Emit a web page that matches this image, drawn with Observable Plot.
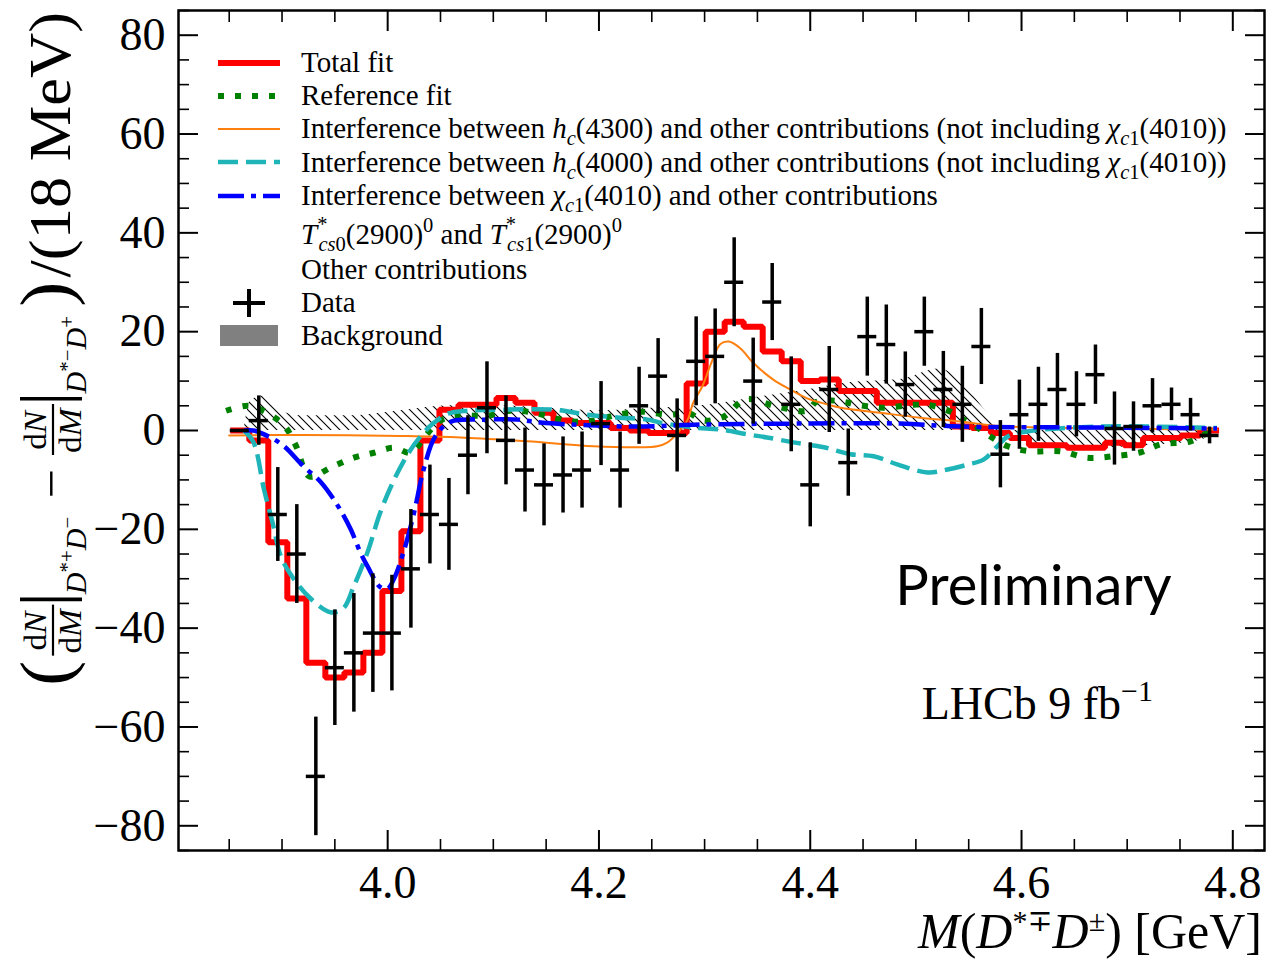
<!DOCTYPE html>
<html><head><meta charset="utf-8">
<script src="https://cdn.jsdelivr.net/npm/d3@7"></script>
<script src="https://cdn.jsdelivr.net/npm/@observablehq/plot@0.6"></script>
<style>html,body{margin:0;padding:0;background:#fff;overflow:hidden}</style>
</head><body><div id="chart"></div>
<script>
// ---------------- data ----------------
const binCenters = [3.860,3.878,3.896,3.914,3.932,3.950,3.968,3.986,4.004,4.022,4.040,4.058,4.076,4.094,4.112,4.130,4.148,4.166,4.184,4.202,4.220,4.238,4.256,4.274,4.292,4.310,4.328,4.346,4.364,4.382,4.400,4.418,4.436,4.454,4.472,4.490,4.508,4.526,4.544,4.562,4.580,4.598,4.616,4.634,4.652,4.670,4.688,4.706,4.724,4.742,4.760,4.778];
const binHalfWidth = 0.009;
const dataValues = [0,2,-17,-25,-70,-48,-45,-41,-41,-28,-17,-19,-5,4.6,-2,-8,-11,-9,-8,1.4,-8,5,11,-1,14,15,30,10,26,5.3,-11,8.3,-6.5,19,17.4,9.3,20,8.3,5.3,17,-4.8,3.2,5.3,8.3,5.3,11.3,0.4,0.8,5,5.3,3.2,-1];
const dataErrors = [0,5,9.5,10,12,11.7,12,12,11.7,12,10,9.3,8,9.3,9,8.5,8.3,7.7,7.7,8.5,7.7,7.8,7.6,7.4,9,9.6,9,8.7,7.8,9.6,8.5,8.7,6.8,8,8,6.6,7,7.7,7.7,7.7,6.8,7,7.5,7.3,6.6,6,7.4,5,5.5,3.3,3.3,1.7];
const totalFit = [0,-2,-22.6,-34,-47,-50,-49,-45,-32.5,-20.4,-2,4.2,5.2,5.2,6.6,5.6,3.6,2,1.5,1.5,0.5,0,-0.5,-0.5,9.5,20,22,21,16,14,10,10.3,8,8,5.6,5.6,5.6,5.6,0.8,0.5,-0.5,-1.5,-3,-3,-3.5,-3.5,-2.5,-3,-1.5,-1.5,-1,0];

const refFitX = [3.847,3.868,3.882,3.902,3.913,3.926,3.946,3.968,3.987,4.006,4.022,4.036,4.050,4.066,4.095,4.116,4.138,4.156,4.176,4.195,4.218,4.239,4.268,4.284,4.299,4.318,4.339,4.369,4.397,4.406,4.426,4.445,4.469,4.498,4.511,4.533,4.542,4.554,4.569,4.587,4.608,4.637,4.662,4.687,4.713,4.732,4.760,4.779];
const refFitY = [4,5,4,1,-3,-9.3,-7.5,-5.5,-4.5,-3.5,-4.5,-1,2,3,3,4,3.6,2.6,1.8,2,3.2,3.8,3.2,3.6,2,2.8,6.3,4.8,4,5.8,6,5.2,4.6,5.2,5.2,3.8,2.6,1.2,-1,-3.2,-4.2,-4.2,-5.5,-5.2,-4.4,-2.8,-2.2,0];

const hc4300X = [3.850,3.918,4.012,4.069,4.132,4.195,4.239,4.255,4.265,4.274,4.284,4.289,4.298,4.306,4.315,4.323,4.334,4.346,4.365,4.381,4.397,4.416,4.429,4.466,4.504,4.542,4.580,4.618,4.675,4.785];
const hc4300Y = [-1,-0.9,-1.1,-1.4,-2.2,-3.2,-3.4,-3.2,-2.4,-0.6,2.2,5.5,9,13.5,17.5,18,16.6,13.7,10.3,8.3,6.5,5.3,4.6,3.6,2.6,1.8,0.9,0.6,0.4,0.2];

const hc4000X = [3.864,3.873,3.883,3.891,3.899,3.911,3.927,3.946,3.958,3.968,3.981,3.993,4.006,4.019,4.031,4.044,4.057,4.076,4.107,4.157,4.189,4.220,4.246,4.258,4.289,4.315,4.341,4.359,4.384,4.413,4.438,4.460,4.483,4.511,4.530,4.549,4.564,4.577,4.587,4.605,4.675,4.785];
const hc4000Y = [0,-2.4,-12,-18.6,-25.5,-30,-34,-36.8,-36,-31.5,-24.6,-16.6,-10,-4.8,-1.2,1.6,3.4,4,4.2,4.2,3.2,2.6,2.2,1.6,0.6,0.2,-0.8,-1.4,-2.4,-3.4,-4.8,-5.2,-6.9,-8.5,-7.9,-6.9,-5.9,-3.2,-1.2,-0.2,0.8,0.5];

const chic1X = [3.864,3.873,3.889,3.902,3.920,3.937,3.953,3.965,3.974,3.981,3.993,4.000,4.006,4.015,4.025,4.034,4.045,4.060,4.091,4.123,4.145,4.176,4.233,4.296,4.391,4.485,4.542,4.675,4.785];
const chic1Y = [0,0,-1.4,-3.2,-7.2,-10.5,-15.3,-20,-24.6,-27.5,-31.7,-32,-30,-24.6,-16.6,-7.9,-1.2,1.8,2.2,2.2,1.6,1.2,0.8,1.2,1.4,1.4,0.8,0.6,0.4];

const bkgX = [3.864,3.870,3.882,3.899,3.918,3.965,4.012,4.060,4.107,4.154,4.202,4.249,4.296,4.343,4.391,4.438,4.485,4.523,4.542,4.570,4.589,4.627,4.675,4.722,4.769,4.785];
const bkgY = [0,6,7,4,3,3,4,5,5,4.5,4,4.5,5,6.5,8,9.7,10.3,12.5,10,3,-1,-3,-3.5,-3,-2,0];

const xMajorTicks = [4.0,4.2,4.4,4.6,4.8];
const xMinorTicks = [3.85,3.9,3.95,4.05,4.1,4.15,4.25,4.3,4.35,4.45,4.5,4.55,4.65,4.7,4.75];
const yMajorTicks = [-80,-60,-40,-20,0,20,40,60,80];
const yMinorTicks = [-85,-75,-70,-65,-55,-50,-45,-35,-30,-25,-15,-10,-5,5,10,15,25,30,35,45,50,55,65,70,75,85];

// ---------------- tables ----------------
const SERIF = "'Liberation Serif', 'DejaVu Serif', serif";
const pts = (xs, ys) => xs.map((x, i) => ({x, y: ys[i]}));
const data = binCenters.map((x, i) => ({x, y: dataValues[i], e: dataErrors[i]}));
const last = binCenters.length - 1;
const redStep = binCenters.map((x, i) => ({x: x - binHalfWidth, y: totalFit[i]}))
  .concat([{x: binCenters[last] + binHalfWidth, y: totalFit[last]}]);

const C = {red: "#ff0000", green: "#008000", orange: "#ff7f0e", cyan: "#1fb5b8", blue: "#0000ff"};
const DASH = {green: "6,11", cyan: "20,8", blue: "26,7,5,7"};

function addParts(sel, parts) {
  parts.forEach(p => {
    const s = sel.append("tspan").text(p.t);
    if (p.i) s.attr("font-style", "italic");
    if (p.s) s.attr("font-size", p.s);
    if (p.dy) s.attr("dy", p.dy);
    if (p.dx) s.attr("dx", p.dx);
  });
  return sel;
}

function defs() {
  const d = d3.create("svg:defs");
  const p = d.append("pattern").attr("id", "hatch").attr("patternUnits", "userSpaceOnUse")
    .attr("width", 9).attr("height", 9);
  p.append("path").attr("d", "M-2,-2L11,11M-2,7L2,11M7,-2L11,2")
    .attr("stroke", "black").attr("stroke-width", 1.1).attr("fill", "none");
  return d.node();
}

function legend() {
  const FS = 29, SS = 20.5;
  const g = d3.create("svg:g").attr("font-family", SERIF).attr("font-size", FS)
    .attr("fill", "black").attr("text-anchor", "start");
  const x0 = 218, x1 = 280, tx = 301;
  const line = (y, color, w, dash) => g.append("line").attr("x1", x0).attr("x2", x1).attr("y1", y).attr("y2", y)
    .attr("stroke", color).attr("stroke-width", w).attr("stroke-dasharray", dash || null);
  line(63, C.red, 6);
  line(96, C.green, 6, DASH.green);
  line(129, C.orange, 2);
  line(162, C.cyan, 4.5, DASH.cyan);
  line(196, C.blue, 4.5, DASH.blue);
  g.append("line").attr("x1", 249).attr("x2", 249).attr("y1", 289).attr("y2", 317).attr("stroke", "black").attr("stroke-width", 4);
  g.append("line").attr("x1", 233).attr("x2", 265).attr("y1", 303).attr("y2", 303).attr("stroke", "black").attr("stroke-width", 4);
  g.append("rect").attr("x", 220).attr("y", 325).attr("width", 58).attr("height", 21).attr("fill", "#808080");
  const text = (y, parts) => addParts(g.append("text").attr("x", tx).attr("y", y), parts);
  text(72, [{t: "Total fit"}]);
  text(105, [{t: "Reference fit"}]);
  const chi = [{t: "χ", i: 1}, {t: "c", i: 1, s: SS, dy: 7}, {t: "1", s: SS}];
  text(138, [{t: "Interference between "}, {t: "h", i: 1}, {t: "c", i: 1, s: SS, dy: 7},
    {t: "(4300) and other contributions (not including ", dy: -7}, ...chi, {t: "(4010))", dy: -7}]);
  text(172, [{t: "Interference between "}, {t: "h", i: 1}, {t: "c", i: 1, s: SS, dy: 7},
    {t: "(4000) and other contributions (not including ", dy: -7}, ...chi, {t: "(4010))", dy: -7}]);
  text(205, [{t: "Interference between "}, ...chi, {t: "(4010) and other contributions", dy: -7}]);
  const tcs = n => [{t: "T", i: 1}, {t: "*", s: SS, dy: -13}, {t: "cs", i: 1, s: SS, dy: 20, dx: -9}, {t: n, s: SS},
    {t: "(2900)", dy: -7}, {t: "0", s: SS, dy: -12}];
  text(244, [...tcs("0"), {t: " and ", dy: 12}, ...tcs("1")]);
  text(279, [{t: "Other contributions"}]);
  text(312, [{t: "Data"}]);
  text(345, [{t: "Background"}]);
  return g.node();
}

const plot = Plot.plot({
  width: 1266, height: 959,
  marginLeft: 178, marginRight: 2, marginTop: 10, marginBottom: 109,
  x: {domain: [3.802, 4.83], label: null},
  y: {domain: [-85, 85], label: null},
  style: {fontFamily: SERIF, fontSize: "46px", background: "white", color: "black"},
  marks: [
    defs,
    Plot.areaY(pts(bkgX, bkgY), {x: "x", y: "y", fill: "url(#hatch)", curve: "monotone-x"}),
    Plot.line(redStep, {x: "x", y: "y", curve: "step-after", stroke: C.red, strokeWidth: 6, strokeLinejoin: "miter", strokeLinecap: "butt"}),
    Plot.line(pts(refFitX, refFitY), {x: "x", y: "y", curve: "catmull-rom", stroke: C.green, strokeWidth: 6, strokeDasharray: DASH.green, strokeLinecap: "butt"}),
    Plot.line(pts(hc4300X, hc4300Y), {x: "x", y: "y", curve: "catmull-rom", stroke: C.orange, strokeWidth: 2}),
    Plot.line(pts(hc4000X, hc4000Y), {x: "x", y: "y", curve: "catmull-rom", stroke: C.cyan, strokeWidth: 4.5, strokeDasharray: DASH.cyan, strokeLinecap: "butt"}),
    Plot.line(pts(chic1X, chic1Y), {x: "x", y: "y", curve: "catmull-rom", stroke: C.blue, strokeWidth: 4.5, strokeDasharray: DASH.blue, strokeLinecap: "butt"}),
    Plot.ruleX(data.filter(d => d.e > 0), {x: "x", y1: d => d.y - d.e, y2: d => d.y + d.e, stroke: "black", strokeWidth: 3.5}),
    Plot.ruleY(data, {y: "y", x1: d => d.x - binHalfWidth, x2: d => d.x + binHalfWidth, stroke: "black", strokeWidth: 3.5}),
    Plot.frame({stroke: "black", strokeWidth: 2.5}),
    // ticks (inward) on all four sides
    Plot.axisX(xMajorTicks, {anchor: "bottom", tickSize: -20, strokeWidth: 2, fill: "none", label: null}),
    Plot.axisX(xMinorTicks, {anchor: "bottom", tickSize: -11, strokeWidth: 1.6, fill: "none", label: null}),
    Plot.axisX(xMajorTicks, {anchor: "top", tickSize: -20, strokeWidth: 2, fill: "none", label: null}),
    Plot.axisX(xMinorTicks, {anchor: "top", tickSize: -11, strokeWidth: 1.6, fill: "none", label: null}),
    Plot.axisY(yMajorTicks, {anchor: "left", tickSize: -20, strokeWidth: 2, fill: "none", label: null}),
    Plot.axisY(yMinorTicks, {anchor: "left", tickSize: -11, strokeWidth: 1.6, fill: "none", label: null}),
    Plot.axisY(yMajorTicks, {anchor: "right", tickSize: -20, strokeWidth: 2, fill: "none", label: null}),
    Plot.axisY(yMinorTicks, {anchor: "right", tickSize: -11, strokeWidth: 1.6, fill: "none", label: null}),
    // tick labels
    Plot.axisX(xMajorTicks, {anchor: "bottom", tickSize: 0, tickPadding: 15, tickFormat: d3.format(".1f"), label: null}),
    Plot.axisY(yMajorTicks, {anchor: "left", tickSize: 0, tickPadding: 13, label: null}),
    legend
  ]
});
document.getElementById("chart").append(plot);

// ---------------- annotations ----------------
const svg = d3.select(plot);
const sx = plot.scale("x"), sy = plot.scale("y");
const ann = svg.append("g").attr("text-anchor", "start").attr("fill", "black");

// x axis label
addParts(ann.append("text").attr("x", 1262).attr("y", 948).attr("text-anchor", "end")
  .attr("font-family", SERIF).attr("font-size", 50),
  [{t: "M", i: 1}, {t: "("}, {t: "D", i: 1}, {t: "*∓", s: 30, dy: -17}, {t: "D", i: 1, s: 50, dy: 17},
   {t: "±", s: 30, dy: -17}, {t: ") [GeV]", s: 50, dy: 17}]);

// Preliminary & LHCb
ann.append("text").attr("x", sx.apply(4.481)).attr("y", sy.apply(-35.4)).attr("font-family", "Lato, 'Open Sans', sans-serif")
  .attr("font-size", 56).text("Preliminary");
addParts(ann.append("text").attr("x", sx.apply(4.506)).attr("y", sy.apply(-58.5)).attr("font-family", SERIF)
  .attr("font-size", 46),
  [{t: "LHCb 9 fb"}, {t: "−1", s: 30, dy: -18}]);

// y axis label (rotated, built piece by piece, then fitted to the reference span)
(function () {
  const X0 = 70, Y0 = 690, SPAN = 678;
  const g = ann.append("g").attr("font-family", SERIF);
  const bw = t => t.node().getBBox().width;
  let u = 0;
  const txt = (parts, x, y, size) => addParts(g.append("text").attr("x", x).attr("y", y).attr("font-size", size), parts);
  const frac = () => {
    const num = txt([{t: "d"}, {t: "N", i: 1}], u, -24, 32);
    const den = txt([{t: "d"}, {t: "M", i: 1}], u, 11, 32);
    const wn = bw(num), wd = bw(den), w = Math.max(wn, wd) + 6;
    num.attr("x", u + (w - wn) / 2); den.attr("x", u + (w - wd) / 2);
    g.append("line").attr("x1", u + 1).attr("x2", u + w - 1).attr("y1", -17).attr("y2", -17)
      .attr("stroke", "black").attr("stroke-width", 2.2);
    u += w + 2;
  };
  const bar = () => {
    g.append("line").attr("x1", u + 2).attr("x2", u + 2).attr("y1", -50).attr("y2", 12)
      .attr("stroke", "black").attr("stroke-width", 3.5);
    u += 7;
  };
  const sub = (s1, s2) => {
    const t = txt([{t: "D", i: 1}, {t: "*" + s1, s: 20, dy: -12}, {t: "D", i: 1, s: 29, dy: 12}, {t: s2, s: 20, dy: -12}], u, 16, 29);
    u += bw(t) + 4;
  };
  let t = txt([{t: "("}], u + 4, 0, 72); u += bw(t) + 8;
  frac(); bar(); sub("+", "−");
  t = txt([{t: " − "}], u, -2, 50); u += bw(t);
  frac(); bar(); sub("−", "+");
  t = txt([{t: ")"}], u + 4, 0, 72); u += bw(t) + 8;
  t = txt([{t: "/(18 MeV)"}], u, 0, 60); u += bw(t);
  g.attr("transform", `translate(${X0},${Y0}) rotate(-90) scale(${SPAN / u},1)`);
})();
</script></body></html>
